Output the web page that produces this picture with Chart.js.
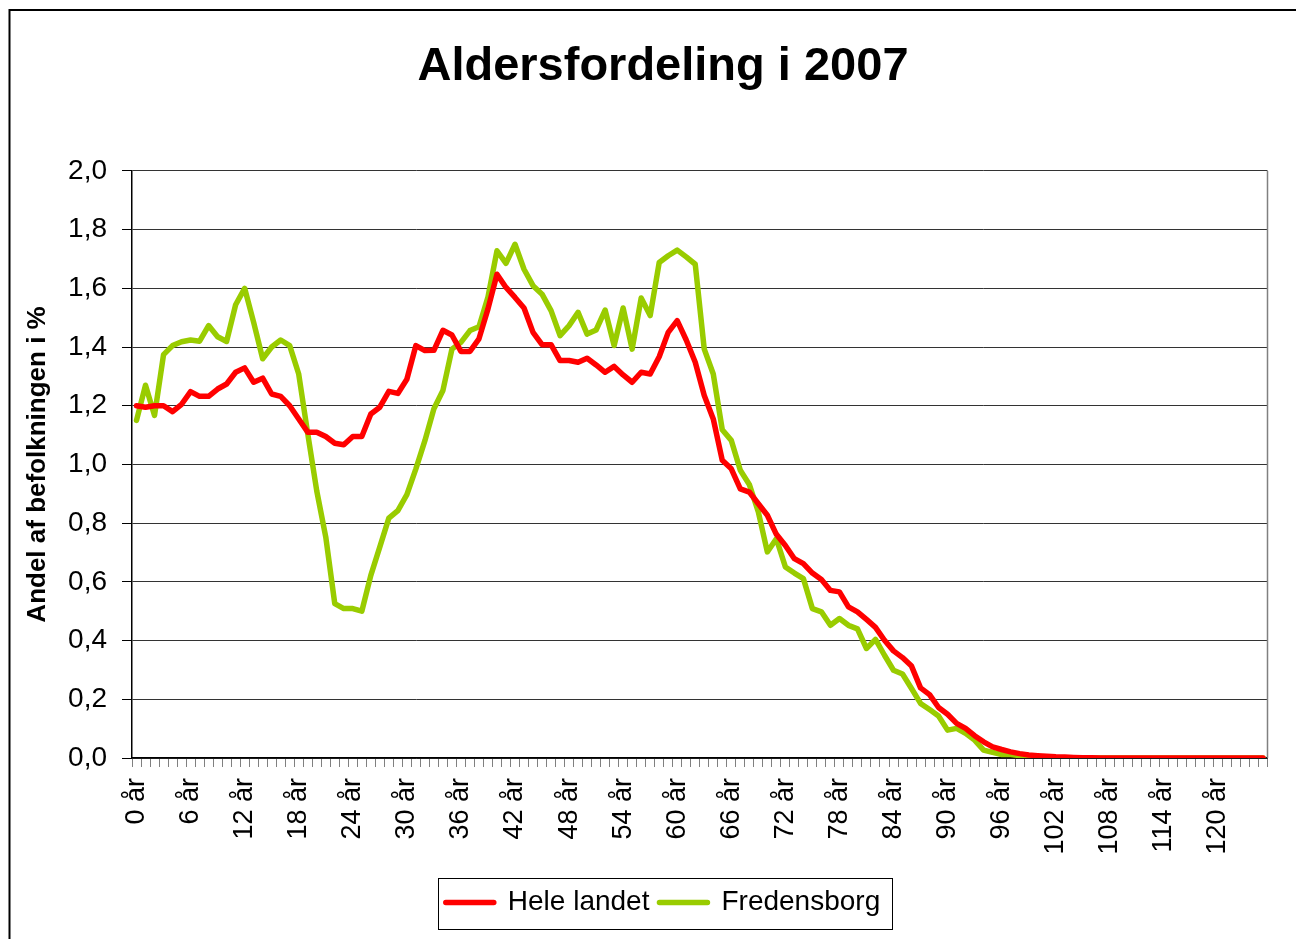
<!DOCTYPE html>
<html>
<head>
<meta charset="utf-8">
<script src="https://cdn.jsdelivr.net/npm/chart.js@4.4.0/dist/chart.umd.min.js"></script>
<style>
  html, body { margin: 0; padding: 0; background: #fff; overflow: hidden; }
  #wrap { position: absolute; left: 0; top: 0; }
</style>
</head>
<body>
<div id="wrap"><canvas id="chart" width="1326" height="939"></canvas></div>
<script>
var ages = [
  '0 år', '1 år', '2 år', '3 år', '4 år', '5 år', '6 år', '7 år', '8 år', '9 år',
  '10 år', '11 år', '12 år', '13 år', '14 år', '15 år', '16 år', '17 år', '18 år', '19 år',
  '20 år', '21 år', '22 år', '23 år', '24 år', '25 år', '26 år', '27 år', '28 år', '29 år',
  '30 år', '31 år', '32 år', '33 år', '34 år', '35 år', '36 år', '37 år', '38 år', '39 år',
  '40 år', '41 år', '42 år', '43 år', '44 år', '45 år', '46 år', '47 år', '48 år', '49 år',
  '50 år', '51 år', '52 år', '53 år', '54 år', '55 år', '56 år', '57 år', '58 år', '59 år',
  '60 år', '61 år', '62 år', '63 år', '64 år', '65 år', '66 år', '67 år', '68 år', '69 år',
  '70 år', '71 år', '72 år', '73 år', '74 år', '75 år', '76 år', '77 år', '78 år', '79 år',
  '80 år', '81 år', '82 år', '83 år', '84 år', '85 år', '86 år', '87 år', '88 år', '89 år',
  '90 år', '91 år', '92 år', '93 år', '94 år', '95 år', '96 år', '97 år', '98 år', '99 år',
  '100 år', '101 år', '102 år', '103 år', '104 år', '105 år', '106 år', '107 år', '108 år', '109 år',
  '110 år', '111 år', '112 år', '113 år', '114 år', '115 år', '116 år', '117 år', '118 år', '119 år',
  '120 år', '121 år', '122 år', '123 år', '124 år', '125 år'
];

// only every 6th age gets a label on the axis
var shownAges = ['0 år', '6 år', '12 år', '18 år', '24 år', '30 år', '36 år', '42 år', '48 år',
  '54 år', '60 år', '66 år', '72 år', '78 år', '84 år', '90 år', '96 år', '102 år', '108 år',
  '114 år', '120 år'];

// Andel af befolkningen i % - hele landet
var heleLandet = [
  1.200, 1.195, 1.200, 1.200, 1.180, 1.205, 1.248, 1.232, 1.232, 1.257,
  1.274, 1.314, 1.329, 1.280, 1.294, 1.240, 1.232, 1.200, 1.155, 1.110,
  1.110, 1.095, 1.072, 1.067, 1.095, 1.095, 1.172, 1.195, 1.249, 1.242,
  1.290, 1.405, 1.388, 1.389, 1.457, 1.441, 1.385, 1.385, 1.428, 1.530,
  1.648, 1.603, 1.569, 1.533, 1.450, 1.408, 1.408, 1.354, 1.354, 1.348,
  1.362, 1.339, 1.314, 1.334, 1.305, 1.280, 1.314, 1.308, 1.367, 1.450,
  1.490, 1.424, 1.348, 1.235, 1.155, 1.014, 0.985, 0.917, 0.906, 0.866,
  0.827, 0.762, 0.724, 0.679, 0.662, 0.630, 0.608, 0.571, 0.566, 0.515,
  0.498, 0.472, 0.445, 0.401, 0.365, 0.342, 0.313, 0.239, 0.216, 0.172,
  0.149, 0.118, 0.101, 0.076, 0.055, 0.038, 0.029, 0.021, 0.015, 0.010,
  0.008, 0.006, 0.004, 0.003, 0.002, 0.001, 0.001, 0, 0, 0,
  0, 0, 0, 0, 0, 0, 0, 0, 0, 0,
  0, 0, 0, 0, 0, 0
];

// Andel af befolkningen i % - Fredensborg
var fredensborg = [
  1.150, 1.270, 1.167, 1.374, 1.405, 1.418, 1.424, 1.420, 1.473, 1.435,
  1.419, 1.544, 1.600, 1.484, 1.360, 1.400, 1.424, 1.405, 1.308, 1.105,
  0.910, 0.753, 0.526, 0.509, 0.509, 0.500, 0.622, 0.719, 0.817, 0.843,
  0.897, 0.985, 1.081, 1.190, 1.252, 1.393, 1.416, 1.456, 1.469, 1.570,
  1.728, 1.685, 1.750, 1.665, 1.609, 1.580, 1.524, 1.439, 1.473, 1.518,
  1.444, 1.458, 1.526, 1.405, 1.533, 1.393, 1.567, 1.507, 1.688, 1.711,
  1.730, 1.707, 1.682, 1.393, 1.308, 1.118, 1.082, 0.980, 0.932, 0.838,
  0.702, 0.747, 0.651, 0.630, 0.611, 0.509, 0.498, 0.452, 0.475, 0.452,
  0.440, 0.373, 0.404, 0.350, 0.299, 0.286, 0.237, 0.186, 0.165, 0.143,
  0.095, 0.101, 0.084, 0.061, 0.027, 0.019, 0.012, 0.012, 0.008, 0.006,
  0.004, 0.002, 0.001, 0, 0, 0, 0, 0, 0, 0,
  0, 0, 0, 0, 0, 0, 0, 0, 0, 0,
  0, 0, 0, 0, 0, 0
];

var font = '"Liberation Sans", Arial, Helvetica, sans-serif';

// white background, the outer chart frame and the plot area's right edge
var framePlugin = {
  id: 'frame',
  beforeDraw: function(chart) {
    var ctx = chart.ctx;
    ctx.save();
    ctx.fillStyle = '#fff';
    ctx.fillRect(0, 0, chart.width, chart.height);
    ctx.strokeStyle = '#000';
    ctx.lineWidth = 2;
    ctx.beginPath();
    ctx.moveTo(9.5, chart.height);
    ctx.lineTo(9.5, 10);
    ctx.lineTo(chart.width, 10);
    ctx.stroke();
    ctx.restore();
  },
  beforeDatasetsDraw: function(chart) {
    var a = chart.chartArea;
    var ctx = chart.ctx;
    ctx.save();
    ctx.strokeStyle = '#808080';
    ctx.lineWidth = 1.5;
    ctx.beginPath();
    ctx.moveTo(a.right, a.top);
    ctx.lineTo(a.right, a.bottom);
    ctx.stroke();
    ctx.restore();
  },
  afterDraw: function(chart) {
    // box round the legend, like the spreadsheet original
    var boxes = chart.legend && chart.legend.legendHitBoxes;
    if (!boxes || !boxes.length) return;
    var first = boxes[0];
    var last = boxes[boxes.length - 1];
    var cy = first.top + first.height / 2;
    var ctx = chart.ctx;
    ctx.save();
    ctx.strokeStyle = '#000';
    ctx.lineWidth = 1;
    ctx.strokeRect(Math.round(first.left - 8) + 0.5, Math.round(cy - 25) + 0.5,
      Math.round(last.left + last.width + 12 - first.left + 8), 51);
    ctx.restore();
  }
};

new Chart(document.getElementById('chart').getContext('2d'), {
  type: 'line',
  data: {
    labels: ages,
    datasets: [{
      label: 'Hele landet',
      data: heleLandet,
      borderColor: '#ff0000',
      backgroundColor: '#ff0000',
      borderWidth: 5.5,
      borderJoinStyle: 'round',
      borderCapStyle: 'round',
      pointRadius: 0,
      tension: 0,
      fill: false
    }, {
      label: 'Fredensborg',
      data: fredensborg,
      borderColor: '#99cc00',
      backgroundColor: '#99cc00',
      borderWidth: 5.5,
      borderJoinStyle: 'round',
      borderCapStyle: 'round',
      pointRadius: 0,
      tension: 0,
      fill: false
    }]
  },
  options: {
    responsive: false,
    animation: false,
    layout: {
      padding: { left: 58.5, right: 58.5, top: 0, bottom: 12.5 }
    },
    plugins: {
      title: {
        display: true,
        text: 'Aldersfordeling i 2007',
        color: '#000',
        font: { family: font, size: 47, weight: 'bold', lineHeight: 1.2 },
        padding: { top: 38.5, bottom: 76 }
      },
      legend: {
        display: true,
        position: 'bottom',
        labels: {
          color: '#000',
          font: { family: font, size: 28 },
          boxWidth: 48,
          boxHeight: 0,
          padding: 10
        }
      },
      tooltip: { enabled: false }
    },
    scales: {
      x: {
        offset: true,
        afterFit: function(scale) { scale.height = 120.5; },
        grid: {
          display: true,
          drawOnChartArea: false,
          drawTicks: true,
          tickLength: 9,
          tickColor: '#808080',
          offset: true
        },
        border: { display: true, color: '#000', width: 1.5 },
        ticks: {
          autoSkip: false,
          minRotation: 90,
          maxRotation: 90,
          padding: 11,
          color: '#000',
          font: { family: font, size: 27 },
          callback: function(value, index) {
            var label = ages[index];
            return shownAges.indexOf(label) >= 0 ? label : '';
          }
        }
      },
      y: {
        min: 0,
        max: 2,
        afterFit: function(scale) { scale.width = 73.5; },
        grid: {
          color: '#333',
          lineWidth: 1,
          drawTicks: true,
          tickLength: 10,
          tickColor: '#000'
        },
        border: { display: true, color: '#000', width: 1.5 },
        ticks: {
          stepSize: 0.2,
          padding: 15,
          color: '#000',
          font: { family: font, size: 28 },
          callback: function(value) {
            return value.toFixed(1).replace('.', ',');
          }
        },
        title: {
          display: true,
          text: 'Andel af befolkningen i %',
          color: '#000',
          font: { family: font, size: 26, weight: 'bold', lineHeight: 1.2 },
          padding: { top: -36, bottom: 0 }
        }
      }
    }
  },
  plugins: [framePlugin]
});
</script>
</body>
</html>
